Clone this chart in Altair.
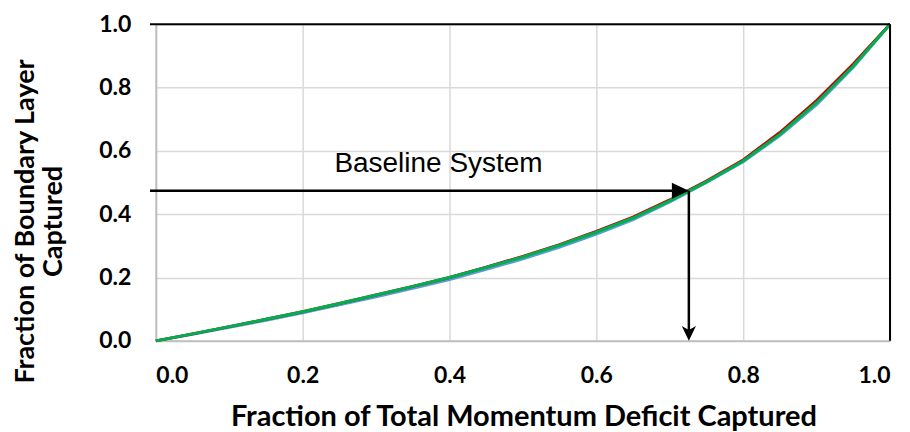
import altair as alt
import pandas as pd

# Curve data
x_vals = [0, 0.05, 0.1, 0.15, 0.2, 0.25, 0.3, 0.35, 0.4, 0.45, 0.5, 0.55, 0.6,
          0.65, 0.7, 0.75, 0.8, 0.85, 0.9, 0.95, 1.0]
green_y = [0, 0.022, 0.045, 0.068, 0.092, 0.118, 0.145, 0.172, 0.2, 0.232, 0.265,
           0.302, 0.343, 0.388, 0.442, 0.502, 0.568, 0.652, 0.752, 0.868, 1.0]
red_y = [0, 0.022, 0.045, 0.068, 0.092, 0.118, 0.145, 0.172, 0.2, 0.233, 0.267,
         0.304, 0.346, 0.391, 0.445, 0.505, 0.571, 0.658, 0.759, 0.874, 1.0]
blue_y = [0, 0.021, 0.043, 0.065, 0.089, 0.114, 0.139, 0.166, 0.194, 0.226, 0.259,
          0.296, 0.337, 0.383, 0.439, 0.5, 0.566, 0.648, 0.746, 0.864, 1.0]

tick_vals = [0, 0.2, 0.4, 0.6, 0.8, 1.0]

# Annotation values
arrow_x = 0.726
arrow_y = 0.474
label_text = "Baseline System"
label_x = 0.385
label_y = 0.534

series = [("Blue", blue_y, "#5b9bd5"), ("Red", red_y, "#c00000"), ("Green", green_y, "#00b050")]

xs = alt.Scale(domain=[0, 1], nice=False, zero=False)
ys = alt.Scale(domain=[0, 1], nice=False, zero=False)

x_axis = alt.Axis(values=tick_vals, format=".1f", title="Fraction of Total Momentum Deficit Captured",
                  labelFont="Lato", labelFontWeight="bold", labelFontSize=23, labelColor="black",
                  labelPadding=24, ticks=False, domainColor="#bfbfbf", domainWidth=2,
                  gridColor="#d9d9d9", gridWidth=1.5,
                  titleFont="Lato", titleFontWeight="bold", titleFontSize=29, titleColor="black",
                  titleX=368, titleY=85, titleBaseline="alphabetic", titleAnchor="middle", titleAlign="center")
y_axis = alt.Axis(values=tick_vals, format=".1f", title=["Fraction of Boundary Layer", "Captured"],
                  labelFont="Lato", labelFontWeight="bold", labelFontSize=23, labelColor="black",
                  labelPadding=25, ticks=False, domainColor="#bfbfbf", domainWidth=2,
                  gridColor="#d9d9d9", gridWidth=1.5,
                  titleFont="Lato", titleFontWeight="bold", titleFontSize=27, titleColor="black",
                  titleX=-143, titleY=197, titleBaseline="top", titleAlign="center", titleAngle=270,
                  titleLineHeight=28)

layers = []
base_df = pd.DataFrame({"x": x_vals, "y": green_y})
grid = alt.Chart(base_df).mark_line(opacity=0).encode(
    x=alt.X("x:Q", scale=xs, axis=x_axis),
    y=alt.Y("y:Q", scale=ys, axis=y_axis),
)
layers.append(grid)

for name, yv, col in series:
    df = pd.DataFrame({"x": x_vals, "y": yv})
    layers.append(alt.Chart(df).mark_line(color=col, strokeWidth=3, clip=False).encode(
        x=alt.X("x:Q", scale=xs), y=alt.Y("y:Q", scale=ys)))

# Frame lines (top and right) and arrow shafts
rules_df = pd.DataFrame({
    "x": [-0.008, 1.0, -0.008, arrow_x],
    "x2": [1.0, 1.0, arrow_x - 0.01, arrow_x],
    "y": [1.0, 0.0, arrow_y, arrow_y],
    "y2": [1.0, 1.0, arrow_y, 0.02],
    "w": [2, 2, 2.5, 2.5],
})
rules = alt.Chart(rules_df).mark_rule(color="black", clip=False).encode(
    x=alt.X("x:Q", scale=xs), x2="x2:Q", y=alt.Y("y:Q", scale=ys), y2="y2:Q",
    strokeWidth=alt.StrokeWidth("w:Q", scale=None))
layers.append(rules)

head_r = pd.DataFrame({"x": [arrow_x], "y": [arrow_y]})
layers.append(alt.Chart(head_r).mark_point(
    shape="M0,0 L-2,-0.94 L-2,0.94 Z", size=289, filled=True, color="black", opacity=1, clip=False
).encode(x=alt.X("x:Q", scale=xs), y=alt.Y("y:Q", scale=ys)))

head_d = pd.DataFrame({"x": [arrow_x], "y": [0.0]})
layers.append(alt.Chart(head_d).mark_point(
    shape="M0,0 L-0.95,-2 L0,-1.45 L0.95,-2 Z", size=225, filled=True, color="black", opacity=1, clip=False
).encode(x=alt.X("x:Q", scale=xs), y=alt.Y("y:Q", scale=ys)))

txt_df = pd.DataFrame({"x": [label_x], "y": [label_y], "t": [label_text]})
layers.append(alt.Chart(txt_df).mark_text(
    font="Liberation Sans", fontSize=28, color="black", align="center", baseline="alphabetic"
).encode(x=alt.X("x:Q", scale=xs), y=alt.Y("y:Q", scale=ys), text="t:N"))

chart = alt.layer(*layers).properties(
    width=735, height=317,
    autosize=alt.AutoSizeParams(type="none"),
    padding={"left": 148, "top": 16, "right": 12, "bottom": 91},
).configure_view(stroke=None).configure(background="white")

chart.save("out.html", embed_options={"renderer": "svg", "actions": False})
